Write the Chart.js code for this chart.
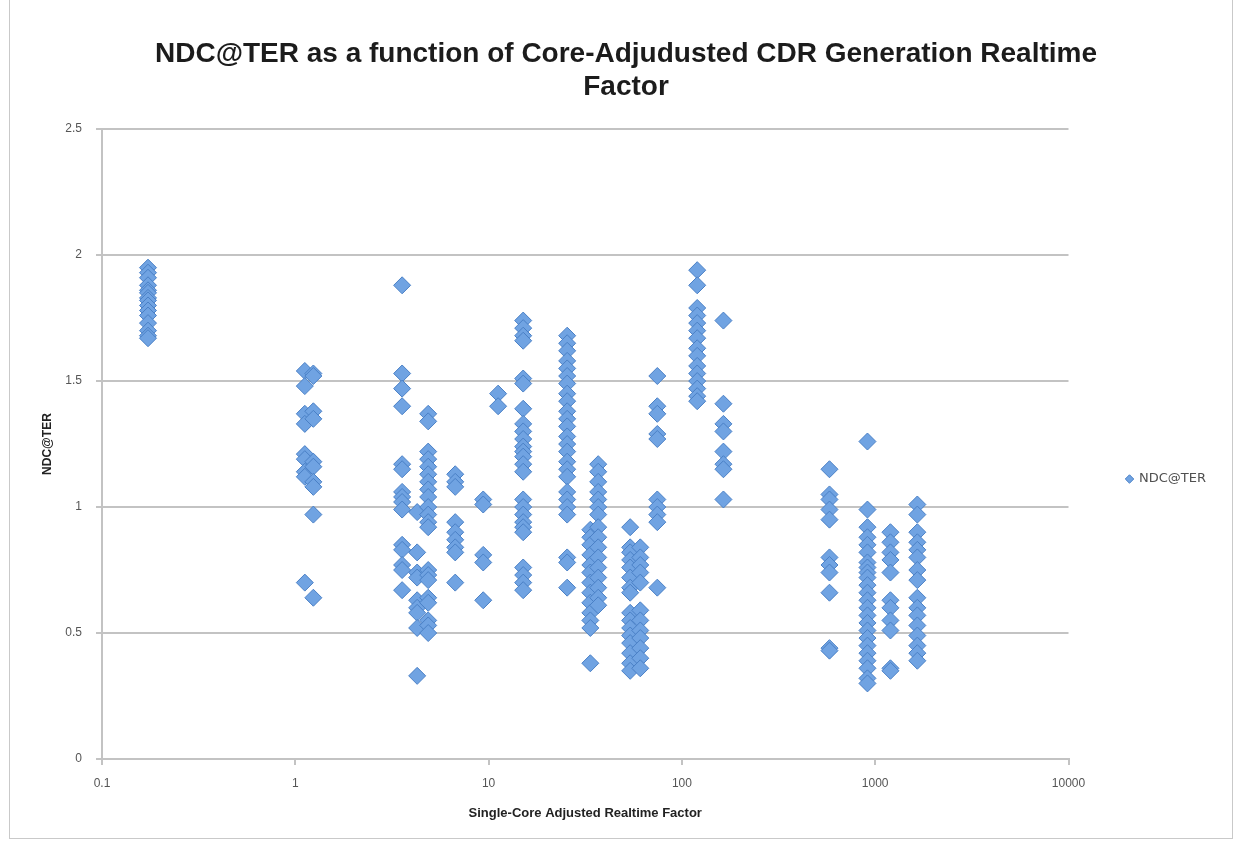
<!DOCTYPE html>
<html>
<head>
<meta charset="utf-8">
<title>NDC@TER vs realtime factor</title>
<script src="https://cdn.jsdelivr.net/npm/chart.js@4.4.1/dist/chart.umd.min.js"></script>
<style>
    html, body { margin: 0; padding: 0; background: #fff; }
    #wrap { position: relative; width: 1239px; height: 844px; }
    #wrap canvas { position: absolute; left: 0; top: 0; }
    #frame { position: absolute; left: 9px; top: -1px; width: 1222px; height: 838px; border: 1px solid #c9c9c9; pointer-events: none; }
</style>
</head>
<body>
<div id="wrap">
    <canvas id="ndcChart" width="1239" height="844"></canvas>
    <div id="frame"></div>
</div>
<script>
const xTicks = [0.1, 1, 10, 100, 1000, 10000];
const yTicks = [0, 0.5, 1, 1.5, 2, 2.5];

// realtime factor of each column of points
const factors = [0.173, 1.12, 1.24, 3.57, 4.27, 4.87, 6.72, 9.38, 11.2, 15.1, 25.5, 33.6, 36.9, 54.0, 60.9, 74.6, 120, 164, 580, 912, 1199, 1652];

// NDC@TER values, one array per column
const ndc_0_17 = [1.95, 1.93, 1.91, 1.88, 1.86, 1.85, 1.83, 1.82, 1.80, 1.78, 1.76, 1.73, 1.70, 1.68, 1.67];
const ndc_1_12 = [1.54, 1.48, 1.37, 1.33, 1.21, 1.19, 1.14, 1.12, 0.70];
const ndc_1_24 = [1.53, 1.52, 1.38, 1.35, 1.18, 1.16, 1.10, 1.08, 0.97, 0.64];
const ndc_3_6 = [1.88, 1.53, 1.47, 1.40, 1.17, 1.15, 1.06, 1.04, 1.02, 0.99, 0.85, 0.83, 0.77, 0.75, 0.67];
const ndc_4_3 = [0.98, 0.82, 0.74, 0.72, 0.63, 0.60, 0.58, 0.52, 0.33];
const ndc_4_9 = [1.37, 1.34, 1.22, 1.19, 1.16, 1.13, 1.10, 1.07, 1.04, 1.00, 0.97, 0.94, 0.92, 0.75, 0.73, 0.71, 0.64, 0.62, 0.55, 0.53, 0.50];
const ndc_6_7 = [1.13, 1.10, 1.08, 0.94, 0.90, 0.87, 0.84, 0.82, 0.70];
const ndc_9_4 = [1.03, 1.01, 0.81, 0.78, 0.63];
const ndc_11 = [1.45, 1.40];
const ndc_15 = [1.74, 1.71, 1.68, 1.66, 1.51, 1.49, 1.39, 1.33, 1.30, 1.27, 1.24, 1.22, 1.20, 1.17, 1.14, 1.03, 1.00, 0.97, 0.94, 0.92, 0.90, 0.76, 0.73, 0.70, 0.67];
const ndc_25 = [1.68, 1.65, 1.62, 1.58, 1.55, 1.52, 1.49, 1.45, 1.42, 1.38, 1.35, 1.32, 1.28, 1.25, 1.22, 1.18, 1.15, 1.12, 1.06, 1.03, 1.00, 0.97, 0.80, 0.78, 0.68];
const ndc_34 = [0.91, 0.88, 0.85, 0.81, 0.77, 0.74, 0.70, 0.66, 0.62, 0.58, 0.55, 0.52, 0.38];
const ndc_37 = [1.17, 1.14, 1.10, 1.06, 1.03, 1.00, 0.97, 0.92, 0.88, 0.84, 0.80, 0.76, 0.72, 0.68, 0.64, 0.61];
const ndc_54 = [0.92, 0.84, 0.82, 0.79, 0.76, 0.72, 0.68, 0.66, 0.58, 0.55, 0.52, 0.49, 0.46, 0.42, 0.38, 0.35];
const ndc_61 = [0.84, 0.80, 0.77, 0.74, 0.70, 0.59, 0.55, 0.51, 0.48, 0.44, 0.40, 0.36];
const ndc_75 = [1.52, 1.40, 1.37, 1.29, 1.27, 1.03, 1.00, 0.97, 0.94, 0.68];
const ndc_120 = [1.94, 1.88, 1.79, 1.76, 1.73, 1.70, 1.67, 1.63, 1.60, 1.56, 1.53, 1.50, 1.47, 1.44, 1.42];
const ndc_164 = [1.74, 1.41, 1.33, 1.30, 1.22, 1.17, 1.15, 1.03];
const ndc_580 = [1.15, 1.05, 1.03, 0.99, 0.95, 0.80, 0.77, 0.74, 0.66, 0.44, 0.43];
const ndc_912 = [1.26, 0.99, 0.92, 0.88, 0.85, 0.82, 0.78, 0.76, 0.74, 0.72, 0.69, 0.66, 0.63, 0.60, 0.57, 0.54, 0.51, 0.48, 0.45, 0.42, 0.39, 0.36, 0.32, 0.30];
const ndc_1200 = [0.90, 0.86, 0.82, 0.79, 0.74, 0.63, 0.60, 0.55, 0.51, 0.36, 0.35];
const ndc_1650 = [1.01, 0.97, 0.90, 0.86, 0.83, 0.80, 0.75, 0.71, 0.64, 0.60, 0.57, 0.53, 0.49, 0.45, 0.42, 0.39];

const columns = [ndc_0_17, ndc_1_12, ndc_1_24, ndc_3_6, ndc_4_3, ndc_4_9, ndc_6_7, ndc_9_4, ndc_11, ndc_15,
    ndc_25, ndc_34, ndc_37, ndc_54, ndc_61, ndc_75, ndc_120, ndc_164, ndc_580, ndc_912, ndc_1200, ndc_1650];

const points = [];
factors.forEach((f, i) => {
    columns[i].forEach(v => points.push({ x: f, y: v }));
});

const tickFont = { family: "'Liberation Sans', Arial, sans-serif", size: 12 };
const gridGray = '#c3c3c3';

// push the legend down, excel centres it lower than chart.js does
const legendShift = {
    id: 'legendShift',
    afterLayout: (chart) => {
        chart.legend.top += 62;
        chart.legend.bottom += 62;
    }
};

new Chart(document.getElementById('ndcChart'), {
    type: 'scatter',
    data: {
        datasets: [{
            label: 'NDC@TER',
            data: points,
            pointStyle: 'rectRot',
            pointRadius: 8.5,
            pointHoverRadius: 8.5,
            backgroundColor: '#70a3e2',
            borderColor: '#4a80c6',
            borderWidth: 1
        }]
    },
    options: {
        responsive: false,
        animation: false,
        devicePixelRatio: 1,
        layout: { padding: { left: 36, right: 23, top: 10, bottom: 20 } },
        plugins: {
            title: {
                display: true,
                text: ['NDC@TER as a function of Core-Adjudusted CDR Generation Realtime', 'Factor'],
                color: '#1c1c1c',
                font: { family: "'Liberation Sans', Arial, sans-serif", size: 28, weight: 'bold', lineHeight: 1.18 },
                padding: { top: 28, bottom: 25 }
            },
            legend: {
                position: 'right',
                labels: {
                    usePointStyle: true,
                    boxWidth: 6,
                    boxHeight: 6,
                    padding: 58,
                    color: '#505050',
                    font: { family: "'DejaVu Sans', sans-serif", size: 13 }
                }
            },
            tooltip: { enabled: false }
        },
        scales: {
            x: {
                type: 'logarithmic',
                min: 0.1,
                max: 10000,
                afterBuildTicks: (scale) => { scale.ticks = xTicks.map(v => ({ value: v })); },
                afterFit: (scale) => { scale.height = 65; },
                ticks: {
                    color: '#555',
                    font: tickFont,
                    padding: 11,
                    maxRotation: 0,
                    callback: (v) => String(v)
                },
                grid: { drawOnChartArea: false, color: gridGray, lineWidth: 2, tickLength: 6 },
                border: { color: gridGray, width: 2 },
                title: {
                    display: true,
                    text: 'Single-Core Adjusted Realtime Factor',
                    color: '#222',
                    font: { family: "'Liberation Sans', Arial, sans-serif", size: 13, weight: 'bold' },
                    padding: { top: 0, bottom: 3 }
                }
            },
            y: {
                min: 0,
                max: 2.5,
                afterBuildTicks: (scale) => { scale.ticks = yTicks.map(v => ({ value: v })); },
                afterFit: (scale) => { scale.width = 66; },
                ticks: {
                    color: '#555',
                    font: tickFont,
                    padding: 14,
                    callback: (v) => String(v)
                },
                grid: { color: gridGray, lineWidth: 2, tickLength: 6 },
                border: { color: gridGray, width: 2 },
                title: {
                    display: true,
                    text: 'NDC@TER',
                    color: '#222',
                    font: { family: "'Liberation Sans', Arial, sans-serif", size: 12, weight: 'bold' },
                    padding: { top: 4, bottom: 0 }
                }
            }
        }
    },
    plugins: [legendShift]
});
</script>
</body>
</html>
